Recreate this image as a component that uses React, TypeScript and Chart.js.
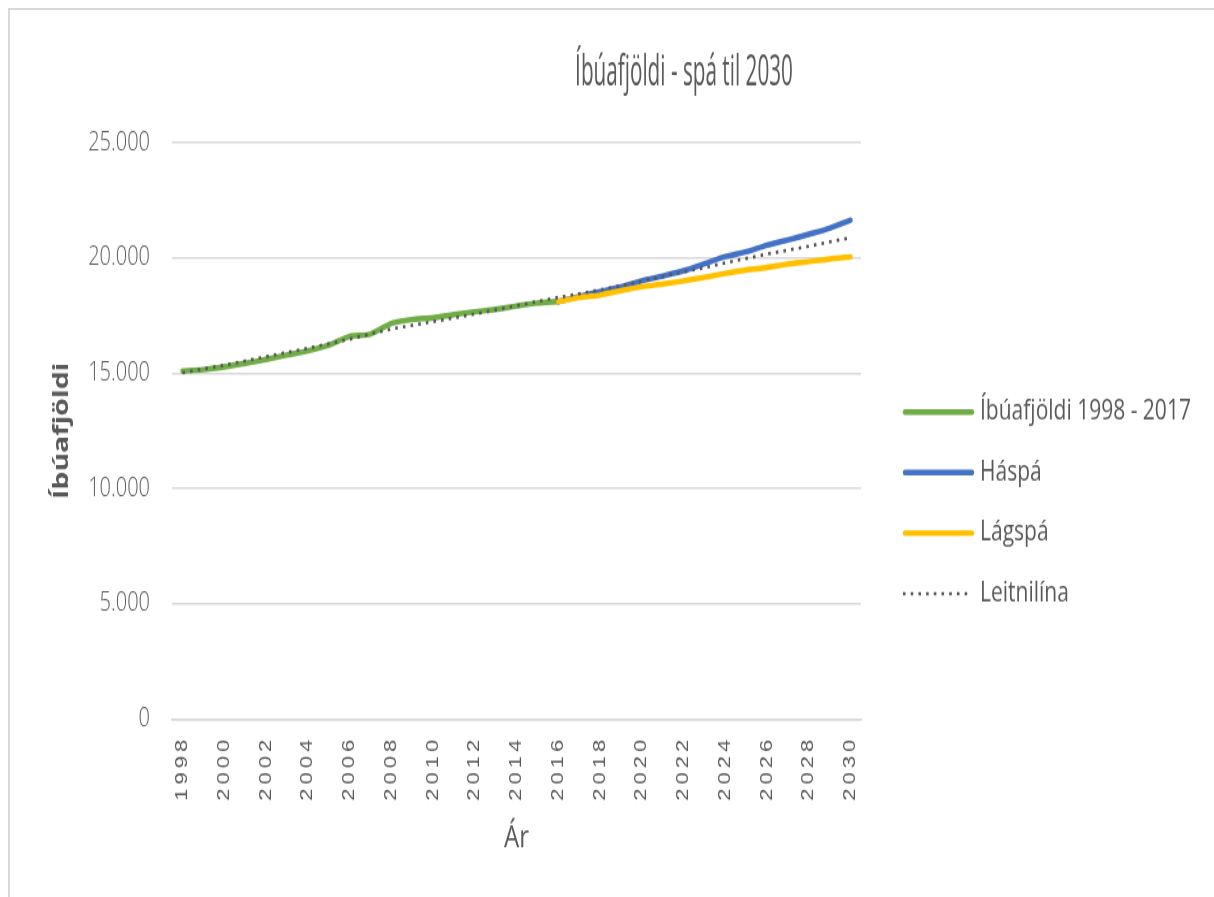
import React, { useEffect, useRef } from 'react';
import { Chart, registerables } from 'chart.js';

Chart.register(...registerables);

// ---------- data ----------
const years = [
  '1998', '1999', '2000', '2001', '2002', '2003', '2004', '2005', '2006', '2007', '2008',
  '2009', '2010', '2011', '2012', '2013', '2014', '2015', '2016', '2017', '2018', '2019',
  '2020', '2021', '2022', '2023', '2024', '2025', '2026', '2027', '2028', '2029', '2030',
];

const population = [
  15100, 15160, 15280, 15430, 15600, 15790, 15980, 16220, 16600, 16700, 17160,
  17330, 17410, 17550, 17670, 17770, 17920, 18050, 18110, null, null, null,
  null, null, null, null, null, null, null, null, null, null, null,
];

const highForecast = [
  null, null, null, null, null, null, null, null, null, null, null,
  null, null, null, null, null, null, null, 18110, 18330, 18540, 18750,
  19010, 19220, 19450, 19750, 20060, 20270, 20560, 20780, 21030, 21290, 21640,
];

const lowForecast = [
  null, null, null, null, null, null, null, null, null, null, null,
  null, null, null, null, null, null, null, 18110, 18290, 18390, 18580,
  18750, 18870, 19010, 19160, 19330, 19480, 19590, 19740, 19840, 19960, 20050,
];

const trendline = [
  15020, 15190, 15350, 15530, 15720, 15900, 16080, 16280, 16480, 16710, 16920,
  17080, 17240, 17400, 17570, 17750, 17930, 18110, 18290, 18450, 18620, 18800,
  19000, 19200, 19400, 19580, 19790, 19980, 20170, 20340, 20510, 20700, 20880,
];

const seriesLabels = ['Íbúafjöldi 1998 - 2017', 'Háspá', 'Lágspá', 'Leitnilína'];
const chartTitle = 'Íbúafjöldi - spá til 2030';
const yAxisTitle = 'Íbúafjöldi';
const xAxisTitle = 'Ár';

// ---------- layout constants (canvas coordinates) ----------
const CW = 1348;
const CH = 676;
const STRETCH = 1.3;
const AREA_LEFT = 162;
const AREA_RIGHT = 851;
const AREA_BOTTOM = 545.4;

const TEXT = '#595959';
const GRID = '#d9d9d9';
const FONT = "'Open Sans', 'Liberation Sans', sans-serif";

const fmt = (v: number) => String(v).replace(/\B(?=(\d{3})+(?!\d))/g, '.');

const sideLegend = {
  id: 'sideLegend',
  afterDraw(chart: any) {
    const ctx = chart.ctx as CanvasRenderingContext2D;
    const textX = 970;
    const y0 = 309.2;
    const step = 46.6;
    chart.data.datasets.forEach((ds: any, i: number) => {
      const y = y0 + i * step;
      const dashed = !!ds.borderDash;
      ctx.save();
      ctx.strokeStyle = ds.borderColor;
      ctx.lineWidth = ds.borderWidth;
      ctx.setLineDash(ds.borderDash || []);
      ctx.lineCap = dashed ? 'butt' : 'round';
      ctx.beginPath();
      ctx.moveTo(dashed ? 893 : 895, y);
      ctx.lineTo(dashed ? 960 : 962, y);
      ctx.stroke();
      ctx.setLineDash([]);
      ctx.fillStyle = TEXT;
      ctx.font = `21px ${FONT}`;
      ctx.textAlign = 'left';
      ctx.textBaseline = 'middle';
      ctx.fillText(ds.label, textX, y);
      ctx.restore();
    });
  },
};

// spaced-out year labels and a taller, narrower title, as in the reference
const textShaping = {
  id: 'textShaping',
  afterLayout(chart: any) {
    const s = chart.scales.x;
    if (s && !s.__spaced) {
      const orig = s.drawLabels.bind(s);
      s.drawLabels = (area: any) => {
        const c = s.ctx as any;
        const prev = c.letterSpacing;
        c.letterSpacing = '3px';
        orig(area);
        c.letterSpacing = prev || '0px';
      };
      s.__spaced = true;
    }
    const t = chart.titleBlock;
    if (t && !t.__shaped) {
      const origT = t.draw.bind(t);
      t.draw = () => {
        const c = t.ctx as CanvasRenderingContext2D;
        const cx = (t.left + t.right) / 2;
        const cy = 48.4;
        c.save();
        c.translate(cx, cy);
        c.scale(0.9, 1.4);
        c.translate(-cx, -cy);
        origT();
        c.restore();
      };
      t.__shaped = true;
    }
  },
};

export default function App() {
  const ref = useRef<HTMLCanvasElement>(null);

  useEffect(() => {
    if (!ref.current) return;
    const chart = new Chart(ref.current, {
      type: 'line',
      data: {
        labels: years,
        datasets: [
          {
            label: seriesLabels[0],
            data: population,
            borderColor: '#70ad47',
            backgroundColor: '#70ad47',
            borderWidth: 4.4,
            tension: 0.25,
            order: 3,
          },
          {
            label: seriesLabels[1],
            data: highForecast,
            borderColor: '#4472c4',
            backgroundColor: '#4472c4',
            borderWidth: 4.4,
            tension: 0.25,
            order: 2,
          },
          {
            label: seriesLabels[2],
            data: lowForecast,
            borderColor: '#ffc000',
            backgroundColor: '#ffc000',
            borderWidth: 4.4,
            tension: 0.25,
            order: 1,
          },
          {
            label: seriesLabels[3],
            data: trendline,
            borderColor: '#595959',
            backgroundColor: '#595959',
            borderWidth: 2.6,
            borderDash: [2.6, 5.1],
            borderCapStyle: 'butt',
            tension: 0,
            order: 0,
          },
        ] as any,
      },
      options: {
        animation: false,
        responsive: false,
        devicePixelRatio: 1,
        layout: { padding: 0 },
        elements: {
          point: { radius: 0, hoverRadius: 0 },
          line: { borderCapStyle: 'round', borderJoinStyle: 'round' },
        },
        plugins: {
          legend: { display: false },
          tooltip: { enabled: false },
          title: {
            display: true,
            text: chartTitle,
            color: TEXT,
            font: { family: FONT, size: 23, weight: 'normal' },
            padding: { top: 34.6, bottom: 39.9 },
          },
        },
        scales: {
          x: {
            type: 'category',
            offset: true,
            grid: { display: false, drawTicks: false },
            border: { display: true, color: GRID, width: 1.5 },
            ticks: {
              autoSkip: false,
              maxRotation: 90,
              minRotation: 90,
              padding: 13,
              color: TEXT,
              font: { family: "'Liberation Sans', Arial, sans-serif", size: 17 },
              callback: (_v: any, i: number) => (i % 2 === 0 ? years[i] : ''),
            },
            title: {
              display: true,
              text: xAxisTitle,
              color: TEXT,
              font: { family: FONT, size: 24 },
              padding: { top: 0, bottom: 24.5 },
            },
            afterFit: (s: any) => {
              s.height = CH - AREA_BOTTOM;
            },
          },
          y: {
            type: 'linear',
            position: 'left',
            min: 0,
            max: 25000,
            grid: { color: GRID, lineWidth: 1.5, drawTicks: false },
            border: { display: false },
            ticks: {
              stepSize: 5000,
              padding: 22,
              color: TEXT,
              font: { family: FONT, size: 20, weight: '300' as any },
              callback: (v: any) => fmt(Number(v)),
            },
            title: {
              display: true,
              text: yAxisTitle,
              color: TEXT,
              font: { family: FONT, size: 22, weight: 'bold' },
              padding: { top: 39, bottom: 0 },
            },
            afterFit: (s: any) => {
              s.width = AREA_LEFT;
            },
          },
          legendSpace: {
            type: 'linear',
            position: 'right',
            display: true,
            grid: { display: false, drawTicks: false },
            border: { display: false },
            ticks: { display: false },
            afterFit: (s: any) => {
              s.width = CW - AREA_RIGHT;
            },
          },
        },
      },
      plugins: [sideLegend, textShaping],
    } as any);
    return () => chart.destroy();
  }, []);

  return (
    <div
      style={{
        position: 'fixed',
        left: 8,
        top: 8,
        width: 1206,
        height: 889,
        boxSizing: 'border-box',
        borderLeft: `2px solid ${GRID}`,
        borderTop: `2px solid ${GRID}`,
        overflow: 'hidden',
        background: '#ffffff',
      }}
    >
      <div style={{ width: CW, height: CH, transform: `scaleY(${STRETCH})`, transformOrigin: '0 0' }}>
        <canvas ref={ref} width={CW} height={CH} style={{ display: 'block' }} />
      </div>
    </div>
  );
}
